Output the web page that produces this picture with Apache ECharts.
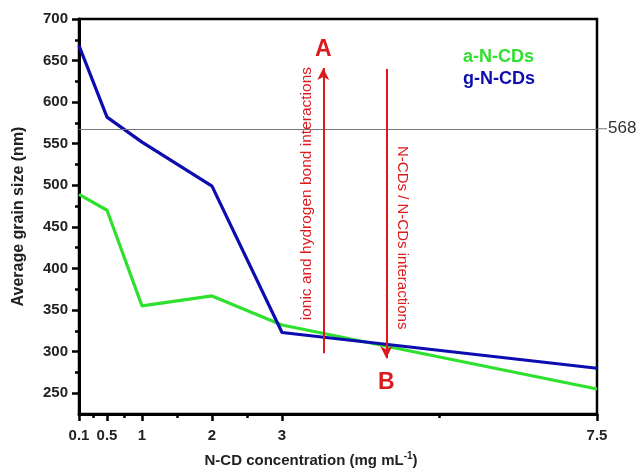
<!DOCTYPE html>
<html>
<head>
<meta charset="utf-8">
<script src="https://cdn.jsdelivr.net/npm/echarts@6/dist/echarts.min.js"></script>
<style>html,body{margin:0;padding:0;background:#fff}#c{width:640px;height:469px}</style>
</head>
<body>
<div id="c"></div>
<script>
// ---- data ----
const seriesNames = ['a-N-CDs', 'g-N-CDs'];
const xValues = [0.1, 0.5, 1, 2, 3, 7.5];
const aNCDs = [489, 470, 355, 367, 332, 255];
const gNCDs = [668, 582, 552, 499, 323, 280];
const xTickLabels = [0.1, 0.5, 1, 2, 3, 7.5];
const xMinorTicks = [0.3, 0.75, 1.5, 2.5, 5.25];
const yTickLabels = [250, 300, 350, 400, 450, 500, 550, 600, 650, 700];
const yMinorTicks = [275, 325, 375, 425, 475, 525, 575, 625, 675];
const refLineValue = 568;
// annotations: arrows [x, from, to], labels
const arrowUp = [3.59, 298, 641];
const arrowDown = [4.49, 640, 292];
const letterLabels = [['A', 3.59, 663], ['B', 4.49, 263]];
const rotatedTexts = [['ionic and hydrogen bond interactions', 3.36, 490, 90, 15.5], ['N-CDs / N-CDs interactions', 4.71, 437, -90, 15]];

const GREEN = '#2fe02f', BLUE = '#0c0cb0', RED = '#dc1a1e', FONT = 'Liberation Sans, Arial, sans-serif';

const chart = echarts.init(document.getElementById('c'), null, {renderer: 'canvas'});
const tickLabelStyle = {fontFamily: FONT, fontWeight: 'bold', fontSize: 15, color: '#222'};

const option = {
  animation: false,
  backgroundColor: '#fff',
  grid: {left: 79, right: 43, top: 19, bottom: 55, containLabel: false, outerBoundsMode: 'none',
         show: true, borderColor: '#000', borderWidth: 2.5, backgroundColor: 'transparent'},
  legend: {
    orient: 'vertical', left: 453, top: 42, icon: 'none', itemWidth: 0, itemHeight: 21, itemGap: 2,
    selectedMode: false,
    textStyle: {fontFamily: FONT, fontWeight: 'bold', fontSize: 18},
    data: [
      {name: seriesNames[0], textStyle: {color: GREEN}},
      {name: seriesNames[1], textStyle: {color: BLUE}}
    ]
  },
  xAxis: [
    {
      type: 'value', min: 0.1, max: 7.5, position: 'bottom',
      name: '{a|N-CD concentration (mg mL}{s|-1}{a|)}', nameLocation: 'middle', nameGap: 37,
      nameTextStyle: {padding: [0, 54, 0, 0], rich: {
        a: {fontFamily: FONT, fontWeight: 'bold', fontSize: 15, color: '#222'},
        s: {fontFamily: FONT, fontWeight: 'bold', fontSize: 10, color: '#222', padding: [0, 0, 9, 0]}
      }},
      axisLine: {show: true, onZero: false, lineStyle: {color: '#000', width: 3}},
      axisTick: {show: true, customValues: xTickLabels, length: 7, lineStyle: {color: '#000', width: 2.5}},
      axisLabel: Object.assign({customValues: xTickLabels, margin: 14}, tickLabelStyle),
      splitLine: {show: false}
    },
    {
      type: 'value', min: 0.1, max: 7.5, position: 'bottom',
      axisLine: {show: false, onZero: false},
      axisTick: {show: true, customValues: xMinorTicks, length: 4, lineStyle: {color: '#000', width: 2.5}},
      axisLabel: {show: false},
      splitLine: {show: false}
    }
  ],
  yAxis: [
    {
      type: 'value', min: 225, max: 700, position: 'left',
      name: 'Average grain size (nm)', nameLocation: 'middle', nameGap: 52,
      nameTextStyle: {fontFamily: FONT, fontWeight: 'bold', fontSize: 16, color: '#222'},
      axisLine: {show: true, onZero: false, lineStyle: {color: '#000', width: 3}},
      axisTick: {show: true, customValues: yTickLabels, length: 7, lineStyle: {color: '#000', width: 2.5}},
      axisLabel: Object.assign({customValues: yTickLabels, margin: 11}, tickLabelStyle),
      splitLine: {show: false}
    },
    {
      type: 'value', min: 225, max: 700, position: 'left',
      axisLine: {show: false, onZero: false},
      axisTick: {show: true, customValues: yMinorTicks, length: 4, lineStyle: {color: '#000', width: 2.5}},
      axisLabel: {show: false},
      splitLine: {show: false}
    }
  ],
  series: [
    {
      name: seriesNames[0], type: 'line', xAxisIndex: 0, yAxisIndex: 0,
      data: xValues.map((x, i) => [x, aNCDs[i]]),
      showSymbol: false, symbol: 'none', color: GREEN,
      lineStyle: {color: GREEN, width: 3.2}, z: 3,
      markLine: {
        silent: true, symbol: ['none', 'none'], animation: false,
        lineStyle: {color: '#777', width: 1, type: 'solid'},
        label: {
          show: true, position: 'end', distance: 0,
          formatter: '{ln|}{t|' + refLineValue + '}',
          rich: {
            ln: {width: 10, height: 1, backgroundColor: '#777'},
            t: {fontFamily: FONT, fontSize: 17, color: '#333', padding: [0, 0, 0, 1]}
          }
        },
        data: [{yAxis: refLineValue}]
      }
    },
    {
      name: seriesNames[1], type: 'line', xAxisIndex: 0, yAxisIndex: 0,
      data: xValues.map((x, i) => [x, gNCDs[i]]),
      showSymbol: false, symbol: 'none', color: BLUE,
      lineStyle: {color: BLUE, width: 3.2}, z: 4
    },
    {
      name: 'annot-letters', type: 'scatter', xAxisIndex: 0, yAxisIndex: 0,
      symbolSize: 1, itemStyle: {color: 'rgba(0,0,0,0)'}, silent: true, z: 5,
      data: letterLabels.map(l => ({value: [l[1], l[2]], label: {formatter: l[0]}})),
      label: {show: true, position: 'inside', fontFamily: FONT, fontWeight: 'bold', fontSize: 23, color: RED,
              textBorderWidth: 0, opacity: 1},
      markLine: {
        silent: true, animation: false, symbol: ['none', 'arrow'], symbolSize: [9, 12],
        lineStyle: {color: RED, width: 2, type: 'solid'},
        label: {show: false},
        data: [
          [{coord: [arrowUp[0], arrowUp[1]]}, {coord: [arrowUp[0], arrowUp[2]]}],
          [{coord: [arrowDown[0], arrowDown[1]]}, {coord: [arrowDown[0], arrowDown[2]]}]
        ]
      }
    },
    {
      name: 'annot-texts', type: 'scatter', xAxisIndex: 0, yAxisIndex: 0,
      symbolSize: 1, itemStyle: {color: 'rgba(0,0,0,0)'}, silent: true, z: 5,
      data: rotatedTexts.map(t => ({value: [t[1], t[2]], label: {formatter: t[0], rotate: t[3], fontSize: t[4]}})),
      label: {show: true, position: 'inside', fontFamily: FONT, color: RED, textBorderWidth: 0, opacity: 1}
    }
  ]
};
chart.setOption(option);
</script>
</body>
</html>
